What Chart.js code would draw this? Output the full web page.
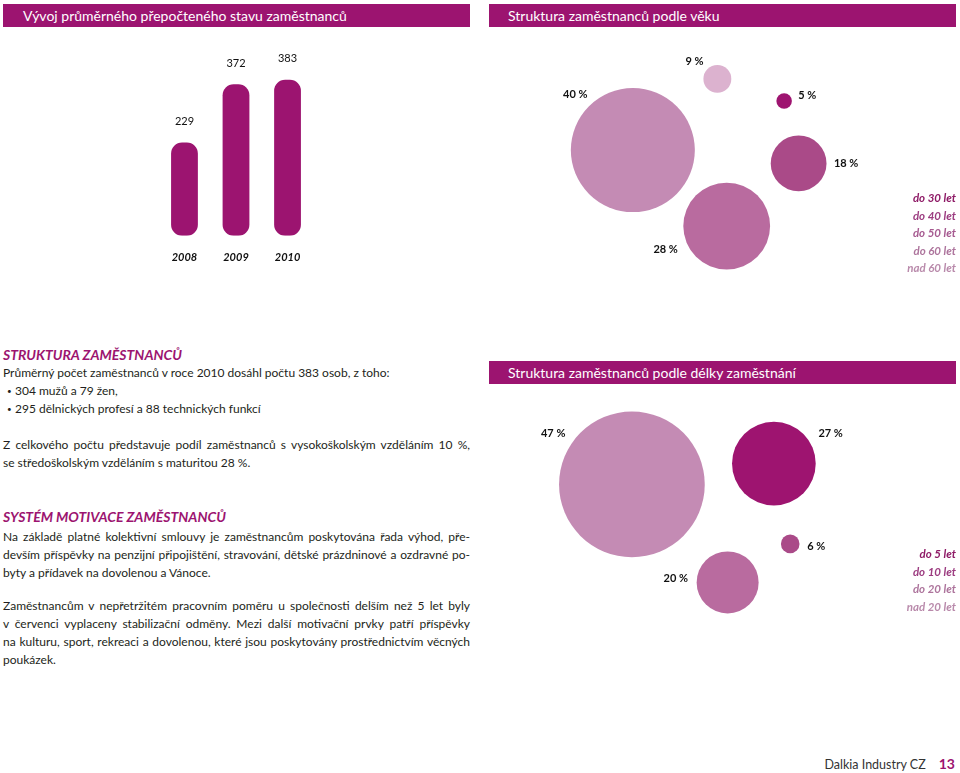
<!DOCTYPE html>
<html lang="cs">
<head>
<meta charset="utf-8">
<script src="https://cdn.jsdelivr.net/npm/chart.js@4.4.1/dist/chart.umd.min.js"></script>
<style>
  body { margin: 0; width: 960px; height: 773px; position: relative; overflow: hidden; background: #fff; font-family: Lato, sans-serif; color: #231f20; }
  .hdr { position: absolute; width: 467px; height: 23px; background: #9c1470; color: #fff; font-size: 14px; line-height: 23px; padding-left: 20px; box-sizing: border-box; white-space: nowrap; }
  .box { position: absolute; }
  .legend { position: absolute; right: 4px; text-align: right; font-weight: 700; font-style: italic; font-size: 11.5px; line-height: 17.6px; }
  .txt { position: absolute; left: 3px; width: 467px; font-size: 12px; line-height: 18px; }
  .txt h2 { margin: 0; font-size: 14px; font-weight: 700; font-style: italic; color: #9c1470; line-height: 18px; white-space: nowrap; }
  .txt p { margin: 0; white-space: nowrap; }
  .txt p.j { white-space: normal; text-align: justify; text-align-last: justify; }
  .bul { padding-left: 12px; position: relative; }
  .bul::before { content: '•'; position: absolute; left: 4px; top: 0; font-size: 8px; }
  .foot { position: absolute; right: 5px; top: 755px; font-size: 12.5px; line-height: 18px; color: #333; }
  .foot b { color: #9c1470; margin-left: 13px; font-size: 14px; }
</style>
</head>
<body>

<div class="hdr" style="left:3px; top:4px;">Vývoj průměrného přepočteného stavu zaměstnanců</div>
<div class="hdr" style="left:489px; top:4px; padding-left:19px;">Struktura zaměstnanců podle věku</div>
<div class="hdr" style="left:489px; top:361px; padding-left:19px;">Struktura zaměstnanců podle délky zaměstnání</div>

<div class="box" style="left:157px; top:30px; width:158px; height:249px;"><canvas id="staffChart"></canvas></div>
<div class="box" style="left:489px; top:30px; width:467px; height:260px;"><canvas id="ageChart"></canvas></div>
<div class="box" style="left:489px; top:390px; width:467px; height:260px;"><canvas id="tenureChart"></canvas></div>

<div class="legend" id="ageLegend" style="top:189px;"></div>
<div class="legend" id="tenureLegend" style="top:545px;"></div>

<div class="txt" style="top:346px;">
  <h2>STRUKTURA ZAMĚSTNANCŮ</h2>
  <p>Průměrný počet zaměstnanců v roce 2010 dosáhl počtu 383 osob, z toho:</p>
  <p class="bul">304 mužů a 79 žen,</p>
  <p class="bul">295 dělnických profesí a 88 technických funkcí</p>
  <p>&nbsp;</p>
  <p class="j">Z celkového počtu představuje podíl zaměstnanců s vysokoškolským vzděláním 10 %,</p>
  <p>se středoškolským vzděláním s maturitou 28 %.</p>
</div>

<div class="txt" style="top:508px;">
  <h2 style="margin-bottom:2px;">SYSTÉM MOTIVACE ZAMĚSTNANCŮ</h2>
  <p class="j">Na základě platné kolektivní smlouvy je zaměstnancům poskytována řada výhod, pře-</p>
  <p class="j">devším příspěvky na penzijní připojištění, stravování, dětské prázdninové a ozdravné po-</p>
  <p>byty a přídavek na dovolenou a Vánoce.</p>
  <p class="j" style="margin-top:15px;">Zaměstnancům v nepřetržitém pracovním poměru u společnosti delším než 5 let byly</p>
  <p class="j">v červenci vyplaceny stabilizační odměny. Mezi další motivační prvky patří příspěvky</p>
  <p class="j">na kulturu, sport, rekreaci a dovolenou, které jsou poskytovány prostřednictvím věcných</p>
  <p>poukázek.</p>
</div>

<div class="foot">Dalkia Industry CZ<b>13</b></div>

<script>
// average headcount
const years = ['2008', '2009', '2010'];
const staff = [229, 372, 383];

// age structure (%)
const ageGroups = ['do 30 let', 'do 40 let', 'do 50 let', 'do 60 let', 'nad 60 let'];
const ageShare = [5, 18, 28, 40, 9];
const ageX = [63.2, 66.3, 50.9, 30.8, 48.9];
const ageY = [72.7, 48.7, 24.6, 53.8, 81.2];

// length of employment (%)
const tenureGroups = ['do 5 let', 'do 10 let', 'do 20 let', 'nad 20 let'];
const tenureShare = [27, 6, 20, 47];
const tenureX = [61.0, 64.5, 51.1, 30.6];
const tenureY = [71.7, 40.8, 26.0, 63.7];

const MAGENTA = '#9c1470';
const shades = ['#9e1470', '#aa4a88', '#b96b9f', '#c48bb4', '#dcb2cf'];
const textShades = ['#8e1a66', '#9c3c80', '#a65a90', '#ad749c', '#b98aab'];
const PX_PER_PCT = 1.55;

// where each % label sits around its bubble: [angle deg, gap px]
const ageLabelPlace = [[-14, 16], [0, 19.6], [159, 22], [-136, 18], [-143, 14.7]];
const tenureLabelPlace = [[-28, 22.4], [6.5, 17], [-176, 21], [-147, 21]];

window.addEventListener('load', () => {
  staffChart();
  bubbleChart('ageChart', ageShare, ageX, ageY, shades, ageLabelPlace);
  bubbleChart('tenureChart', tenureShare, tenureX, tenureY, shades.slice(0, 4), tenureLabelPlace);
  legend('ageLegend', ageGroups, textShades);
  legend('tenureLegend', tenureGroups, [textShades[0], textShades[1], textShades[3], textShades[4]]);
});

const staffChart = () => {
  const valueLabels = {
    id: 'valueLabels',
    afterDatasetsDraw(chart) {
      const ctx = chart.ctx;
      ctx.save();
      ctx.font = '11px Lato';
      ctx.fillStyle = '#111';
      ctx.textAlign = 'center';
      ctx.textBaseline = 'middle';
      chart.getDatasetMeta(0).data.forEach((bar, i) => {
        ctx.fillText(staff[i], bar.x, bar.y - 21);
      });
      ctx.restore();
    },
  };

  new Chart(document.getElementById('staffChart'), {
    type: 'bar',
    data: {
      labels: years,
      datasets: [
        {
          data: staff,
          backgroundColor: MAGENTA,
          borderRadius: 11,
          borderSkipped: false,
          barPercentage: 0.52,
          categoryPercentage: 1,
        },
      ],
    },
    options: {
      responsive: true,
      maintainAspectRatio: false,
      animation: false,
      layout: { padding: 0 },
      plugins: { legend: { display: false }, tooltip: { enabled: false } },
      scales: {
        y: { display: false, min: 0, max: 505 },
        x: {
          grid: { display: false, drawTicks: false },
          border: { display: false },
          ticks: {
            padding: 15,
            color: '#111',
            font: { family: 'Lato', size: 11, weight: 'bold', style: 'italic' },
          },
        },
      },
    },
    plugins: [valueLabels],
  });
};

const bubbleChart = (id, shares, xs, ys, colors, place) => {
  const pctLabels = {
    id: 'pctLabels',
    afterDatasetsDraw(chart) {
      const ctx = chart.ctx;
      ctx.save();
      ctx.font = 'bold 11px Lato';
      ctx.fillStyle = '#111';
      ctx.textAlign = 'center';
      ctx.textBaseline = 'middle';
      chart.getDatasetMeta(0).data.forEach((pt, i) => {
        const a = place[i][0] * Math.PI / 180;
        const d = pt.options.radius + place[i][1];
        ctx.fillText(shares[i] + ' %', pt.x + Math.cos(a) * d, pt.y + Math.sin(a) * d);
      });
      ctx.restore();
    },
  };

  new Chart(document.getElementById(id), {
    type: 'bubble',
    data: {
      datasets: [
        {
          data: shares.map((v, i) => ({ x: xs[i], y: ys[i], r: v * PX_PER_PCT })),
          backgroundColor: colors,
          borderWidth: 0,
          hoverBorderWidth: 0,
          clip: false,
        },
      ],
    },
    options: {
      responsive: true,
      maintainAspectRatio: false,
      animation: false,
      layout: { padding: 0, autoPadding: false },
      plugins: { legend: { display: false }, tooltip: { enabled: false } },
      scales: {
        x: { display: false, min: 0, max: 100 },
        y: { display: false, min: 0, max: 100 },
      },
    },
    plugins: [pctLabels],
  });
};

const legend = (id, groups, colors) => {
  const el = document.getElementById(id);
  groups.forEach((g, i) => {
    const row = document.createElement('div');
    row.textContent = g;
    row.style.color = colors[i];
    el.appendChild(row);
  });
};
</script>
</body>
</html>
